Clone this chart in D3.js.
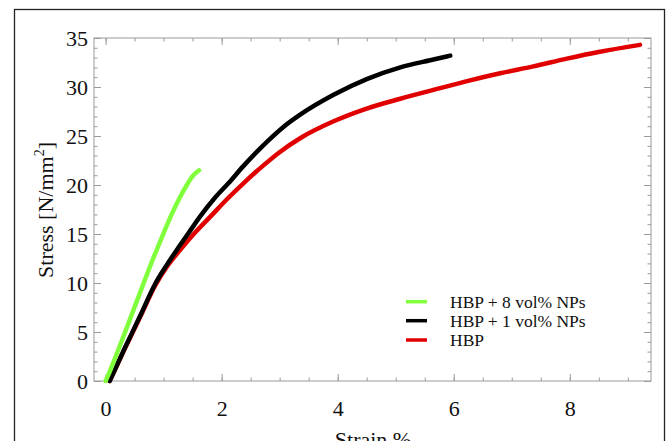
<!DOCTYPE html>
<html>
<head>
<meta charset="utf-8">
<style>
  body { margin: 0; background: #fff; }
  svg { display: block; }
  text { font-family: "Liberation Serif", "Times New Roman", serif; fill: #111; }
  .axis .domain { display: none; }
  .axis .tick line { stroke: #9a9a9a; stroke-width: 1; }
  .axis text { font-size: 22px; }
  .lbl { font-size: 22px; }
  .legend text { font-size: 17.5px; }
</style>
</head>
<body>
<svg width="668" height="441"></svg>
<script src="https://d3js.org/d3.v7.min.js"></script>
<script>
// strain (%) / stress (N/mm^2)
const hbp8 = [
  [0, 0], [0.06, 0.8], [0.16, 2.3], [0.33, 4.9], [0.49, 7.4], [0.65, 9.9], [0.82, 12.5],
  [1.0, 15.1], [1.13, 16.9], [1.26, 18.5], [1.4, 20.0], [1.5, 20.9], [1.61, 21.5]
];
const hbp1 = [
  [0.07, 0], [0.315, 3.16], [0.6, 6.7], [0.86, 9.97], [1.05, 11.8], [1.23, 13.4],
  [1.43, 15.1], [1.63, 16.8], [1.87, 18.6], [2.12, 20.2], [2.37, 21.9], [2.61, 23.4],
  [2.78, 24.4], [3.06, 25.9], [3.36, 27.2], [3.93, 29.2], [4.5, 30.8], [5.08, 32.0],
  [5.65, 32.8], [5.94, 33.2]
];
const hbp = [
  [0.07, 0], [0.315, 3.1], [0.6, 6.6], [0.86, 9.8], [1.05, 11.6], [1.29, 13.4],
  [1.55, 15.2], [1.81, 16.8], [2.1, 18.6], [2.38, 20.2], [2.7, 21.9], [3.01, 23.4],
  [3.36, 24.8], [3.93, 26.5], [4.5, 27.8], [5.08, 28.8], [5.65, 29.7], [6.23, 30.6],
  [6.8, 31.4], [7.37, 32.1], [7.95, 32.9], [8.52, 33.6], [9.21, 34.3]
];

const seriesNames = ["HBP + 8 vol% NPs", "HBP + 1 vol% NPs", "HBP"];
const seriesColors = ["#80ff3c", "#000000", "#e00000"];

const xTicks = [0, 2, 4, 6, 8];
const yTicks = [0, 5, 10, 15, 20, 25, 30, 35];
const xMinor = d3.range(0, 9.01, 0.5);
const yMinor = d3.range(0, 35.01, 1);

let svg = d3.select("svg");

let margin = { top: 38, right: 17, bottom: 60, left: 94 };
let width = 668, height = 441;

let x = d3.scaleLinear().domain([-0.2, 9.4]).range([margin.left, width - margin.right]);
let y = d3.scaleLinear().domain([0, 35]).range([381, margin.top]);

// outer box
svg.append("rect")
  .attr("x", 14.5).attr("y", 9.5)
  .attr("width", 650).attr("height", 450)
  .attr("fill", "none").attr("stroke", "#222").attr("stroke-width", 1.3);

// ticks on all four sides, pointing in
let yBot = y(0), yTop = y(35), xLeft = x(-0.2), xRight = x(9.4);

function ticks(axisFn, scale, vals, size, tr) {
  let a = axisFn(scale).tickValues(vals).tickSize(size).tickFormat("");
  svg.append("g").attr("class", "axis").attr("transform", tr).call(a);
}
ticks(d3.axisBottom, x, xMinor, -3.5, `translate(0,${yBot})`);
ticks(d3.axisBottom, x, xTicks, -7, `translate(0,${yBot})`);
ticks(d3.axisTop, x, xMinor, -3.5, `translate(0,${yTop})`);
ticks(d3.axisTop, x, xTicks, -7, `translate(0,${yTop})`);
ticks(d3.axisLeft, y, yMinor, -3.5, `translate(${xLeft},0)`);
ticks(d3.axisLeft, y, yTicks, -7, `translate(${xLeft},0)`);
ticks(d3.axisRight, y, yMinor, -3.5, `translate(${xRight},0)`);
ticks(d3.axisRight, y, yTicks, -7, `translate(${xRight},0)`);

// tick labels
svg.append("g").attr("class", "axis")
  .attr("transform", `translate(0,${yBot})`)
  .call(d3.axisBottom(x).tickValues(xTicks).tickSize(0).tickPadding(19));
svg.append("g").attr("class", "axis")
  .attr("transform", `translate(${xLeft},0)`)
  .call(d3.axisLeft(y).tickValues(yTicks).tickSize(0).tickPadding(6));

// frame
svg.append("rect")
  .attr("x", xLeft).attr("y", yTop)
  .attr("width", xRight - xLeft).attr("height", yBot - yTop)
  .attr("fill", "none").attr("stroke", "#9a9a9a").attr("stroke-width", 1);

// curves
let line = d3.line().x(d => x(d[0])).y(d => y(d[1])).curve(d3.curveMonotoneX);
let data = [hbp, hbp1, hbp8];
let cols = [seriesColors[2], seriesColors[1], seriesColors[0]];
svg.append("g")
  .selectAll("path")
  .data(data)
  .join("path")
  .attr("d", line)
  .attr("fill", "none")
  .attr("stroke", (d, i) => cols[i])
  .attr("stroke-width", 4.5)
  .attr("stroke-linecap", "round")
  .attr("stroke-linejoin", "round");

// axis labels
svg.append("text").attr("class", "lbl")
  .attr("x", 373).attr("y", 447)
  .attr("text-anchor", "middle")
  .text("Strain %");

let yl = svg.append("text").attr("class", "lbl")
  .attr("transform", "translate(53,210) rotate(-90)")
  .attr("text-anchor", "middle");
yl.append("tspan").text("Stress [N/mm");
yl.append("tspan").attr("font-size", "14px").attr("dy", "-9").text("2");
yl.append("tspan").attr("dy", "9").text("]");

// legend
let legend = svg.append("g").attr("class", "legend");
let rowY = [301.7, 320.7, 340];
seriesNames.forEach((name, i) => {
  legend.append("line")
    .attr("x1", 406).attr("x2", 427)
    .attr("y1", rowY[i]).attr("y2", rowY[i])
    .attr("stroke", seriesColors[i]).attr("stroke-width", 3.5);
  legend.append("text")
    .attr("x", 450).attr("y", rowY[i] + 6.3)
    .text(name);
});
</script>
</body>
</html>
